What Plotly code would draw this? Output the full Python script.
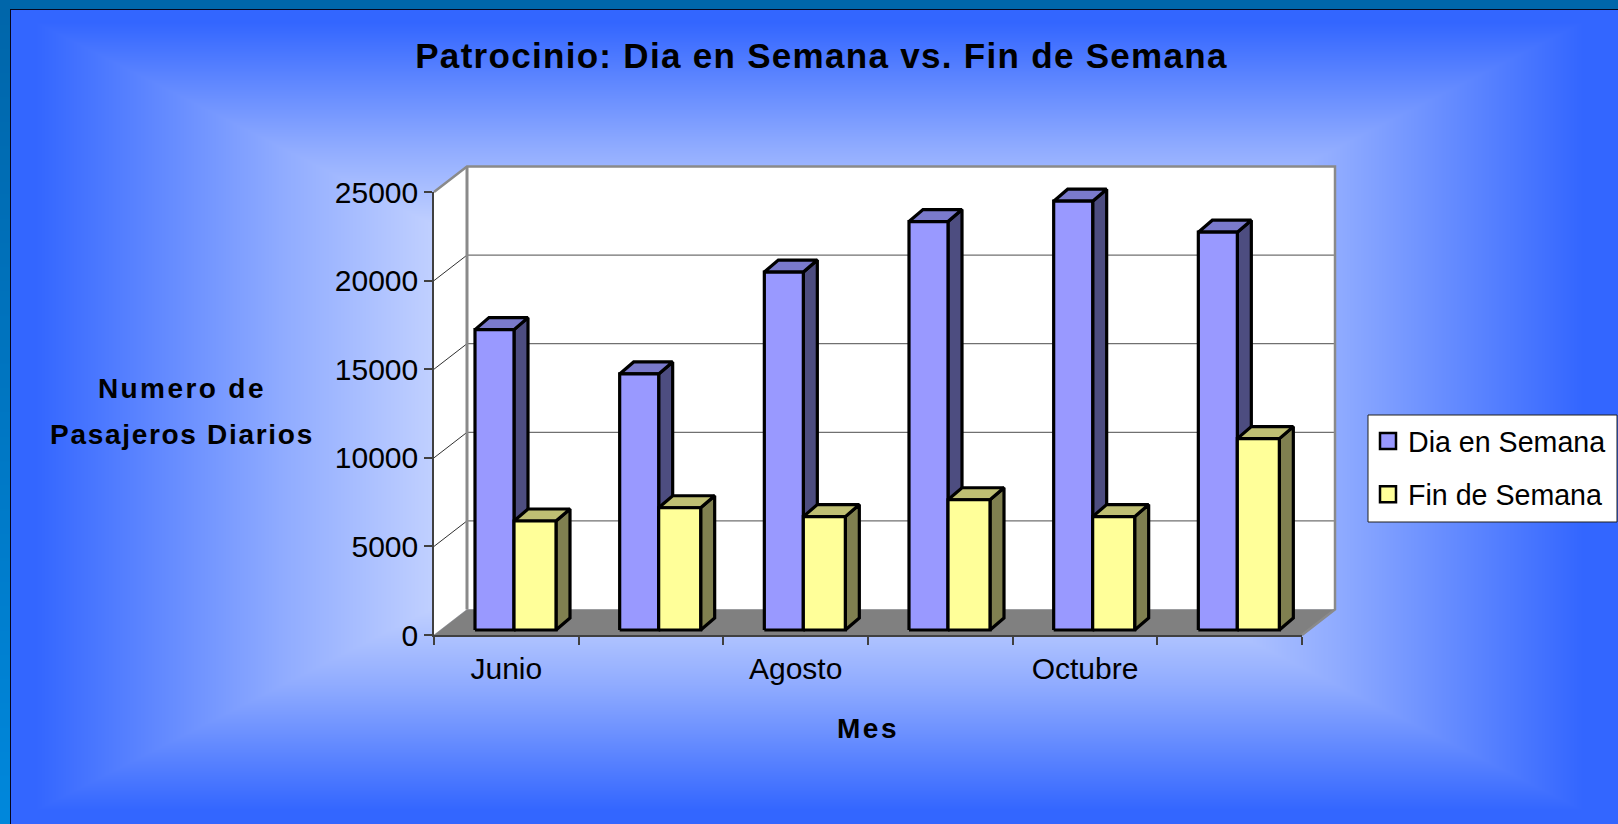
import base64
import struct
import zlib

import numpy as np
import plotly.graph_objects as go

# ---------- data ----------
MESES = ["Junio", "Julio", "Agosto", "Septiembre", "Octubre", "Noviembre"]
DIA_EN_SEMANA = [16950, 14450, 20200, 23050, 24200, 22450]
FIN_DE_SEMANA = [6150, 6900, 6400, 7350, 6400, 10800]
Y_TICKS = [0, 5000, 10000, 15000, 20000, 25000]
X_LABELLED = ["Junio", "Agosto", "Octubre"]

# ---------- page geometry ----------
W, H = 1618, 824
L, R, T, B = 434, 1302, 192, 635
XU = (R - L) / len(MESES)            # px per category
YU = (B - T) / 25000                 # px per passenger


def px(v):
    return v / W


def py(v):
    return 1 - v / H


def dx(p):
    return p / XU


def dy(p):
    return p / YU


# ---------- background picture (rectangular gradient and frame) ----------
def background_png():
    xx, yy = np.meshgrid(np.arange(W), np.arange(H))
    d = np.maximum(np.abs(xx - 809) / 799, np.abs(yy - 416) / 407)
    t = 1 - d
    r = np.interp(t, [0, 0.03, 0.34, 0.526, 0.77, 1], [51, 51, 144, 192, 255, 255])
    g = 102 + 0.75 * (r - 51)
    b = np.full_like(r, 255.0)
    img = np.dstack([r, g, b])
    frame = (xx < 10) | (yy < 9)
    fy = yy / H
    img[frame] = np.dstack([0 * fy, 102 + 34 * fy, 170 + 50 * fy])[frame]
    img[((xx == 10) & (yy >= 9)) | ((yy == 9) & (xx >= 10))] = [5, 5, 30]
    img = img.astype(np.uint8)
    raw = b"".join(b"\x00" + img[i].tobytes() for i in range(H))

    def chunk(tag, data):
        return struct.pack(">I", len(data)) + tag + data + struct.pack(">I", zlib.crc32(tag + data))

    png = b"\x89PNG\r\n\x1a\n" + chunk(b"IHDR", struct.pack(">IIBBBBB", W, H, 8, 2, 0, 0, 0))
    png += chunk(b"IDAT", zlib.compress(raw, 9)) + chunk(b"IEND", b"")
    return "data:image/png;base64," + base64.b64encode(png).decode()


# ---------- pseudo-3D helpers ----------
FD_X, FD_Y = dx(33), dy(25.5)         # depth of the floor
BD_X, BD_Y = dx(14), dy(12)           # depth of a bar
BAR_LEFT, BAR_BASE = dx(41), dy(5)
SLOT_W = (dx(39), dx(42))
N = len(MESES)
YMAX = Y_TICKS[-1]


def polys(shapes):
    xs, ys = [], []
    for shape in shapes:
        xs += [p[0] for p in shape] + [shape[0][0], None]
        ys += [p[1] for p in shape] + [shape[0][1], None]
    return xs, ys


def add_poly(fig, shapes, fill, line="black", width=3.2):
    xs, ys = polys(shapes)
    fig.add_trace(go.Scatter(x=xs, y=ys, mode="lines", fill="toself", fillcolor=fill,
                             line=dict(color=line, width=width),
                             showlegend=False, hoverinfo="skip"))


def add_line(fig, xs, ys, color, width):
    fig.add_trace(go.Scatter(x=xs, y=ys, mode="lines", line=dict(color=color, width=width),
                             showlegend=False, hoverinfo="skip"))


fig = go.Figure()

# walls and floor
add_poly(fig, [[(FD_X, FD_Y), (N + FD_X, FD_Y), (N + FD_X, YMAX + FD_Y), (FD_X, YMAX + FD_Y)],
               [(0, 0), (FD_X, FD_Y), (FD_X, YMAX + FD_Y), (0, YMAX)]], "white", "white", 0.5)
add_poly(fig, [[(0, 0), (N, 0), (N + FD_X, FD_Y), (FD_X, FD_Y)]], "#808080", "#808080", 0.5)

# gridlines on the back and side walls
gx, gy, sx, sy = [], [], [], []
for v in Y_TICKS[1:-1]:
    gx += [FD_X, N + FD_X, None]
    gy += [v + FD_Y, v + FD_Y, None]
for v in Y_TICKS[1:-1]:
    sx += [0, FD_X, None]
    sy += [v, v + FD_Y, None]
add_line(fig, gx, gy, "#707070", 1.2)
add_line(fig, sx, sy, "#303030", 1)

# grey wall edges
add_line(fig, [0, FD_X, N + FD_X, N + FD_X, N], [YMAX, YMAX + FD_Y, YMAX + FD_Y, FD_Y, 0], "#8a8a8a", 2.5)
add_line(fig, [FD_X, FD_X], [YMAX + FD_Y, FD_Y], "#8a8a8a", 3)


# bars
def bar_faces(values, slot):
    front, top, side = [], [], []
    for i, v in enumerate(values):
        x0 = i + BAR_LEFT + sum(SLOT_W[:slot])
        x1 = x0 + SLOT_W[slot]
        y0, y1 = BAR_BASE, BAR_BASE + v
        front.append([(x0, y0), (x1, y0), (x1, y1), (x0, y1)])
        top.append([(x0, y1), (x1, y1), (x1 + BD_X, y1 + BD_Y), (x0 + BD_X, y1 + BD_Y)])
        side.append([(x1, y0), (x1 + BD_X, y0 + BD_Y), (x1 + BD_X, y1 + BD_Y), (x1, y1)])
    return front, top, side


for values, slot, colors in [(DIA_EN_SEMANA, 0, ("#9999FF", "#7A7ACC", "#4D4D80")),
                             (FIN_DE_SEMANA, 1, ("#FFFF99", "#BFBF73", "#808050"))]:
    front, top, side = bar_faces(values, slot)
    add_poly(fig, side, colors[2])
    add_poly(fig, top, colors[1])
    add_poly(fig, front, colors[0])

# legend entries
for name, color in [("Dia en Semana", "#9999FF"), ("Fin de Semana", "#FFFF99")]:
    fig.add_trace(go.Scatter(x=[None], y=[None], mode="markers", name=name, legendgroup=name,
                             marker=dict(symbol="square", size=16, color=color,
                                         line=dict(color="black", width=2.5))))

# the visible axes live in a second subplot, so their lines and ticks sit above the walls
fig.add_trace(go.Scatter(x=[None], y=[None], xaxis="x2", yaxis="y2", showlegend=False, hoverinfo="skip"))

FONT = "Liberation Sans, Arial, sans-serif"
AXIS = "#404040"


def spaced(text, sp):
    return f'<span style="letter-spacing:{sp}px">{text}</span>'


def side_title(text, sp, y):
    return dict(text=spaced(f"<b>{text}</b>", sp), xref="paper", yref="paper", x=px(182), y=py(y),
                xanchor="center", yanchor="middle", showarrow=False, font=dict(size=28))


fig.update_layout(
    width=W, height=H,
    margin=dict(l=0, r=0, t=0, b=0, pad=0, autoexpand=False),
    paper_bgcolor="#3366FF", plot_bgcolor="rgba(0,0,0,0)",
    font=dict(family=FONT, size=30, color="black"),
    title=dict(text=spaced("<b>Patrocinio: Dia en Semana vs. Fin de Semana</b>", 1.3),
               x=821.5 / W, y=py(56), xanchor="center", yanchor="middle",
               font=dict(family=FONT, size=35, color="black")),
    # full-page hidden axes that carry every mark, at the same scale as the visible ones
    xaxis=dict(domain=[0, 1], range=[-L / XU, (W - L) / XU], visible=False),
    yaxis=dict(domain=[0, 1], range=[-(H - B) / YU, B / YU], visible=False),
    xaxis2=dict(domain=[L / W, R / W], anchor="y2", range=[0, N], showgrid=False, zeroline=False,
                showline=True, linecolor=AXIS, linewidth=1.5,
                tickmode="array", tickvals=[MESES.index(m) + 0.5 for m in X_LABELLED], ticktext=X_LABELLED,
                ticks="outside", ticklen=6, tickcolor="rgba(0,0,0,0)",
                minor=dict(tickmode="array", tickvals=list(range(N + 1)), ticks="outside",
                           ticklen=8, tickcolor=AXIS, tickwidth=1.5, showgrid=False),
                tickfont=dict(size=30),
                title=dict(text=spaced("<b>Mes</b>", 2.5), standoff=35, font=dict(size=28))),
    yaxis2=dict(domain=[py(B), py(T)], anchor="x2", range=[0, YMAX], showgrid=False, zeroline=False,
                showline=True, linecolor=AXIS, linewidth=1.5,
                tickmode="array", tickvals=Y_TICKS, ticks="outside", ticklen=8, tickcolor=AXIS,
                tickwidth=1.5, tickfont=dict(size=30), tickformat="d"),
    legend=dict(x=px(1368), y=py(416), xanchor="left", yanchor="top", bgcolor="rgba(0,0,0,0)",
                borderwidth=0, font=dict(size=28.6), tracegroupgap=13, itemclick=False),
    images=[dict(source=background_png(), xref="paper", yref="paper", x=0, y=1,
                 sizex=1, sizey=1, xanchor="left", yanchor="top",
                 sizing="stretch", layer="below")],
    shapes=[dict(type="rect", xref="paper", yref="paper", x0=px(1368), x1=px(1617), y0=py(415), y1=py(522),
                 fillcolor="white", line=dict(color="#202020", width=1), layer="below")],
    annotations=[side_title("Numero de", 2.4, 389), side_title("Pasajeros Diarios", 1.7, 434.5)],
    showlegend=True,
)

fig.write_html("out.html", config={"displayModeBar": False},
               post_script="document.body.style.margin='0';document.body.style.overflow='hidden';")
